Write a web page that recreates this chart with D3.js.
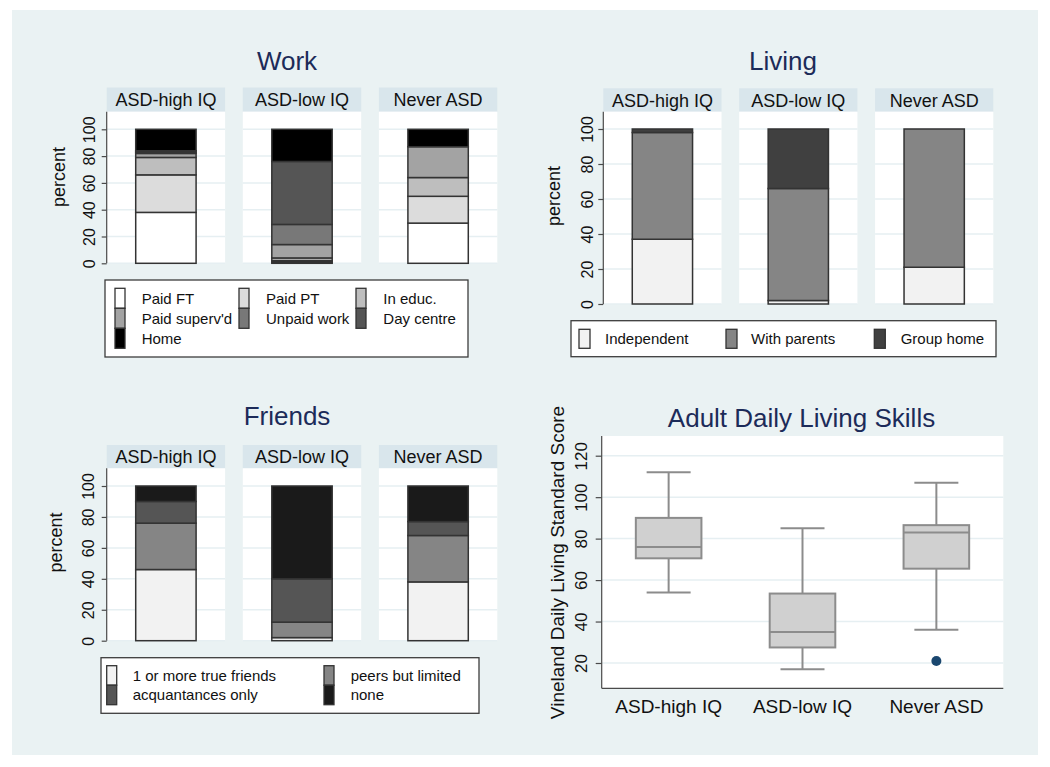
<!DOCTYPE html>
<html><head><meta charset="utf-8">
<script src="https://cdn.jsdelivr.net/npm/d3@7"></script>
<style>
html,body{margin:0;padding:0;background:#fff;}
svg text{font-family:"Liberation Sans",Arial,Helvetica,sans-serif;}
</style></head>
<body>
<svg id="chart" width="1050" height="767"></svg>
<script>
// ---------------- DATA ----------------
const groups = ["ASD-high IQ", "ASD-low IQ", "Never ASD"];
const percentTicks = [0, 20, 40, 60, 80, 100];

const workCats = ["Paid FT", "Paid PT", "In educ.", "Paid superv'd", "Unpaid work", "Day centre", "Home"];
const workHighIQ = [38, 28, 13, 3, 1, 1, 16];
const workLowIQ = [1, 1, 2, 10, 15, 47, 24];
const workNeverASD = [30, 20, 14, 23, 0, 0, 13];
const workColors = ["#FFFFFF", "#DCDCDC", "#BEBEBE", "#A3A3A3", "#787878", "#555555", "#000000"];

const livingCats = ["Independent", "With parents", "Group home"];
const livingHighIQ = [37, 61, 2];
const livingLowIQ = [2, 64, 34];
const livingNeverASD = [21, 79, 0];
const livingColors = ["#F2F2F2", "#858585", "#404040"];

const friendsCats = ["1 or more true friends", "peers but limited", "acquantances only", "none"];
const friendsHighIQ = [46, 30, 14, 10];
const friendsLowIQ = [2, 10, 28, 60];
const friendsNeverASD = [38, 30, 9, 23];
const friendsColors = ["#F2F2F2", "#858585", "#555555", "#1A1A1A"];

const boxTicks = [20, 40, 60, 80, 100, 120];
const boxWhiskerLow = [54, 17, 36];
const boxQ1 = [70.5, 27.5, 65.5];
const boxMedian = [76, 35, 83];
const boxQ3 = [90, 53.5, 86.5];
const boxWhiskerHigh = [112, 85, 107];
const boxOutlierGroup = ["Never ASD"];
const boxOutlierValue = [21];

// ---------------- STYLE ----------------
const BG = "#EAF2F3", STRIP = "#D9E6EC", GRID = "#E6EFF2";
const TITLE = "#1C2B59", AXIS = "#4a4a4a";

const svg = d3.select("#chart");
svg.append("rect").attr("x", 12).attr("y", 10).attr("width", 1026).attr("height", 745).attr("fill", BG);

function stackedPanel(o) {
  const g = svg.append("g");
  const fx = d3.scaleBand().domain(groups).range(o.xRange).paddingInner(0.13).paddingOuter(0);
  const y = d3.scaleLinear().domain([0, 100]).range([o.y0, o.y100]);
  const bw = fx.bandwidth();
  // title
  g.append("text").attr("x", o.titleX).attr("y", o.titleY).attr("text-anchor", "middle")
    .attr("font-size", 26).attr("fill", TITLE).text(o.title);
  // facets
  groups.forEach((grp, gi) => {
    const x0 = fx(grp);
    g.append("rect").attr("x", x0).attr("y", o.stripTop).attr("width", bw).attr("height", o.stripBottom - o.stripTop).attr("fill", STRIP);
    g.append("text").attr("x", x0 + bw / 2).attr("y", (o.stripTop + o.stripBottom) / 2 + 6.5)
      .attr("text-anchor", "middle").attr("font-size", 18).attr("fill", "#111").text(grp);
    g.append("rect").attr("x", x0).attr("y", o.stripBottom).attr("width", bw).attr("height", y(0) - o.stripBottom).attr("fill", "#fff");
    percentTicks.forEach(t => {
      g.append("line").attr("x1", x0).attr("x2", x0 + bw).attr("y1", y(t)).attr("y2", y(t))
        .attr("stroke", GRID).attr("stroke-width", 1.5);
    });
    // stacked bar
    const vals = o.values[gi];
    const row = {}; o.cats.forEach((c, i) => row[c] = vals[i]);
    const series = d3.stack().keys(o.cats)([row]);
    const barW = bw * 0.51, bx = x0 + (bw - barW) / 2;
    series.forEach((s, i) => {
      const d = s[0];
      if (d[1] - d[0] <= 0) return;
      g.append("rect").attr("x", bx).attr("width", barW)
        .attr("y", y(d[1])).attr("height", y(d[0]) - y(d[1]))
        .attr("fill", o.colors[i]).attr("stroke", "#333").attr("stroke-width", 1.5);
    });
  });
  // y axis
  const ax = g.append("g").attr("transform", `translate(${o.xRange[0]},0)`);
  ax.append("line").attr("x1", 0).attr("x2", 0).attr("y1", o.stripBottom).attr("y2", y(0)).attr("stroke", AXIS).attr("stroke-width", 1.2);
  const axis = d3.axisLeft(y).tickValues(percentTicks).tickSize(5).tickPadding(0);
  const axg = ax.append("g").call(axis);
  axg.select(".domain").remove();
  axg.selectAll(".tick line").attr("stroke", AXIS).attr("stroke-width", 1.2);
  axg.selectAll(".tick text").attr("font-size", 16).attr("fill", "#111")
    .attr("font-family", "Liberation Sans, Arial, sans-serif")
    .attr("text-anchor", "middle").attr("dy", 0)
    .attr("transform", `translate(${o.tickLabelX - o.xRange[0]},0) rotate(-90)`).attr("x", 0).attr("y", 0);
  g.append("text").attr("transform", `translate(${o.ytitleX},${o.ytitleY}) rotate(-90)`)
    .attr("text-anchor", "middle").attr("font-size", 18).attr("fill", "#111").text("percent");
  // legend
  const L = o.legend;
  g.append("rect").attr("x", L.x).attr("y", L.y).attr("width", L.w).attr("height", L.h)
    .attr("fill", "#fff").attr("stroke", "#3c3c3c").attr("stroke-width", 1.3);
  o.cats.forEach((c, i) => {
    const col = i % L.cols, r = Math.floor(i / L.cols);
    const top = L.rowTop + r * L.rowH;
    g.append("rect").attr("x", L.swX[col]).attr("y", top).attr("width", L.swW).attr("height", L.rowH)
      .attr("fill", o.colors[i]).attr("stroke", "#333").attr("stroke-width", 1.3);
    g.append("text").attr("x", L.txX[col]).attr("y", top + L.rowH / 2 + 5.5)
      .attr("font-size", 15).attr("fill", "#111").text(c);
  });
}

stackedPanel({
  title: "Work", titleX: 287, titleY: 70,
  xRange: [106.7, 497.3], stripTop: 87.5, stripBottom: 111.7, y0: 263.3, y100: 129.3,
  cats: workCats, values: [workHighIQ, workLowIQ, workNeverASD], colors: workColors,
  tickLabelX: 95, ytitleX: 65, ytitleY: 177,
  legend: { x: 105, y: 280, w: 363, h: 77, cols: 3, rowTop: 288.3, rowH: 20, swW: 10,
    swX: [115, 239, 356], txX: [141.7, 266, 383.3] }
});

stackedPanel({
  title: "Living", titleX: 783, titleY: 70,
  xRange: [603.3, 993.3], stripTop: 88.3, stripBottom: 111.7, y0: 304, y100: 129,
  cats: livingCats, values: [livingHighIQ, livingLowIQ, livingNeverASD], colors: livingColors,
  tickLabelX: 593, ytitleX: 560, ytitleY: 196,
  legend: { x: 571, y: 320.7, w: 425, h: 36, cols: 3, rowTop: 329.3, rowH: 19, swW: 11,
    swX: [579, 726, 874.3], txX: [605, 751, 900.7] }
});

stackedPanel({
  title: "Friends", titleX: 287, titleY: 425,
  xRange: [106.7, 497.3], stripTop: 445, stripBottom: 468.3, y0: 640.7, y100: 486,
  cats: friendsCats, values: [friendsHighIQ, friendsLowIQ, friendsNeverASD], colors: friendsColors,
  tickLabelX: 94, ytitleX: 62, ytitleY: 542.5,
  legend: { x: 101, y: 657.7, w: 378, h: 55.6, cols: 2, rowTop: 665.7, rowH: 19.5, swW: 10,
    swX: [106.7, 324], txX: [132.7, 350.7] }
});

// ---------------- BOX PLOT ----------------
(function () {
  const g = svg.append("g");
  const left = 601.7, right = 1003.3, top = 436, bottom = 688.3;
  const x = d3.scaleBand().domain(groups).range([left, right]).padding(0);
  const y = d3.scaleLinear().domain([20, 120]).range([663, 455.7]);
  g.append("text").attr("x", 801.5).attr("y", 427).attr("text-anchor", "middle")
    .attr("font-size", 26).attr("fill", TITLE).text("Adult Daily Living Skills");
  g.append("rect").attr("x", left).attr("y", top).attr("width", right - left).attr("height", bottom - top).attr("fill", "#fff");
  boxTicks.forEach(t => {
    g.append("line").attr("x1", left).attr("x2", right).attr("y1", y(t)).attr("y2", y(t))
      .attr("stroke", GRID).attr("stroke-width", 1.5);
  });
  const bw = x.bandwidth() * 0.49, capW = 44, col = "#8C8C8C";
  groups.forEach((grp, i) => {
    const cx = x(grp) + x.bandwidth() / 2;
    g.append("line").attr("x1", cx).attr("x2", cx).attr("y1", y(boxWhiskerHigh[i])).attr("y2", y(boxQ3[i])).attr("stroke", col).attr("stroke-width", 2);
    g.append("line").attr("x1", cx).attr("x2", cx).attr("y1", y(boxQ1[i])).attr("y2", y(boxWhiskerLow[i])).attr("stroke", col).attr("stroke-width", 2);
    [boxWhiskerHigh[i], boxWhiskerLow[i]].forEach(v => {
      g.append("line").attr("x1", cx - capW / 2).attr("x2", cx + capW / 2).attr("y1", y(v)).attr("y2", y(v)).attr("stroke", col).attr("stroke-width", 2);
    });
    g.append("rect").attr("x", cx - bw / 2).attr("width", bw).attr("y", y(boxQ3[i])).attr("height", y(boxQ1[i]) - y(boxQ3[i]))
      .attr("fill", "#D0D0D0").attr("stroke", col).attr("stroke-width", 2);
    g.append("line").attr("x1", cx - bw / 2).attr("x2", cx + bw / 2).attr("y1", y(boxMedian[i])).attr("y2", y(boxMedian[i])).attr("stroke", col).attr("stroke-width", 2);
  });
  boxOutlierGroup.forEach((grp, i) => {
    g.append("circle").attr("cx", x(grp) + x.bandwidth() / 2).attr("cy", y(boxOutlierValue[i])).attr("r", 5)
      .attr("fill", "#1A476F");
  });
  // axes
  g.append("line").attr("x1", left).attr("x2", left).attr("y1", top).attr("y2", bottom).attr("stroke", AXIS).attr("stroke-width", 1.2);
  g.append("line").attr("x1", left).attr("x2", right).attr("y1", bottom).attr("y2", bottom).attr("stroke", AXIS).attr("stroke-width", 1.2);
  const axg = g.append("g").attr("transform", `translate(${left},0)`)
    .call(d3.axisLeft(y).tickValues(boxTicks).tickSize(6).tickPadding(0));
  axg.select(".domain").remove();
  axg.selectAll(".tick line").attr("stroke", AXIS).attr("stroke-width", 1.2);
  axg.selectAll(".tick text").attr("font-size", 17).attr("fill", "#111")
    .attr("font-family", "Liberation Sans, Arial, sans-serif")
    .attr("text-anchor", "middle").attr("dy", 0).attr("x", 0).attr("y", 0)
    .attr("transform", `translate(${586.5 - left},0) rotate(-90)`);
  const xg = g.append("g").attr("transform", `translate(0,${bottom})`)
    .call(d3.axisBottom(x).tickSize(0).tickPadding(0));
  xg.select(".domain").remove();
  xg.selectAll(".tick text").attr("font-size", 19).attr("fill", "#111")
    .attr("font-family", "Liberation Sans, Arial, sans-serif").attr("dy", 0).attr("y", 25);
  g.append("text").attr("transform", "translate(564,562.5) rotate(-90)").attr("text-anchor", "middle")
    .attr("font-size", 19).attr("fill", "#111").text("Vineland Daily Living Standard Score");
})();
</script>
</body></html>
